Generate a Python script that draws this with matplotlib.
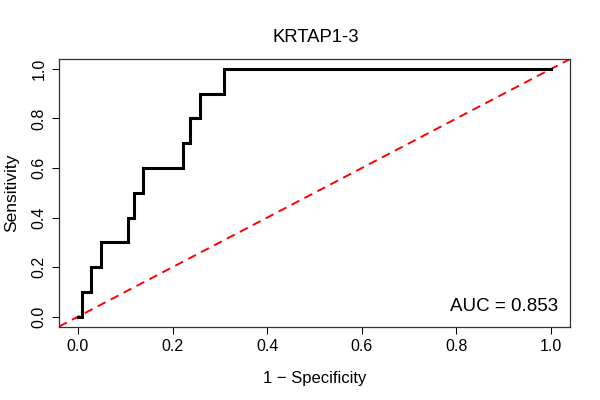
import matplotlib
matplotlib.use("Agg")
import matplotlib.pyplot as plt

plt.rcParams["font.family"] = ["Liberation Sans", "DejaVu Sans"]

# ROC curve corners
step_fpr = [0.0085, 0.0275, 0.048, 0.106, 0.118, 0.137, 0.223, 0.236, 0.257, 0.309]
step_tpr = [0.1, 0.2, 0.3, 0.4, 0.5, 0.6, 0.7, 0.8, 0.9, 1.0]
auc_value = 0.853
title = "KRTAP1-3"
ticks = [0.0, 0.2, 0.4, 0.6, 0.8, 1.0]

fpr = [0.0] + step_fpr + [1.0]
tpr = [0.0] + step_tpr + [1.0]

fig = plt.figure(figsize=(6, 4), dpi=100)
ax = fig.add_axes([59 / 600, 1 - 326.6 / 400, (570 - 59) / 600, (326.6 - 59) / 400])

ax.set_xlim(-0.04, 1.04)
ax.set_ylim(-0.04, 1.04)

ax.axline((0, 0), (1, 1), color="#ff0000", lw=1.4, dashes=(4.5, 3))
ax.step(fpr, tpr, where="post", color="black", lw=2.2, solid_joinstyle="miter")

ax.text(1.015, 0.04, f"AUC = {auc_value:.3f}", ha="right", va="center", fontsize=13.5)

ax.set_xticks(ticks)
ax.set_yticks(ticks)
ax.set_xticklabels([f"{t:.1f}" for t in ticks], fontsize=11.5)
ax.set_yticklabels([f"{t:.1f}" for t in ticks], fontsize=11.5, rotation=90, va="center")
ax.tick_params(length=5, width=0.75, pad=4)

for s in ax.spines.values():
    s.set_linewidth(0.9)
    s.set_color("#333333")

fig.text(0.527, 1 - 38 / 400, title, ha="center", va="center", fontsize=13.3)
fig.text(0.524, 1 - 378 / 400, "1 \u2212 Specificity", ha="center", va="center", fontsize=12)
fig.text(0.02, 1 - 193 / 400, "Sensitivity", ha="center", va="center", rotation=90, fontsize=12.5)

fig.savefig("out.png", dpi=100)
